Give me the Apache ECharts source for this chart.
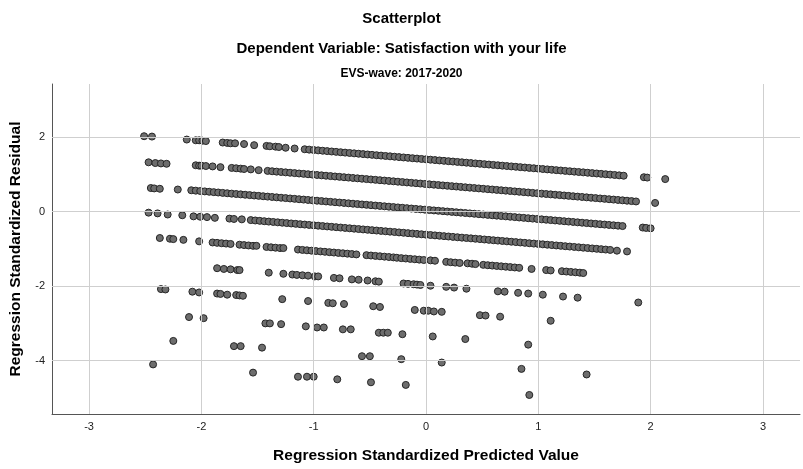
<!DOCTYPE html>
<html>
<head>
<meta charset="utf-8">
<script src="https://cdn.jsdelivr.net/npm/echarts@6/dist/echarts.min.js"></script>
<style>html,body{margin:0;padding:0;background:#fff}#c{width:803px;height:469px}</style>
</head>
<body>
<div id="c"></div>
<script>
// Tick labels
var xTicks = [-3, -2, -1, 0, 1, 2, 3];
var yTicks = [2, 0, -2, -4];

// Points [standardized predicted value, standardized residual], grouped by response band
var life10 = [[-2.51,2.02],[-2.44,2.01],[-2.13,1.93],[-2.05,1.91],[-2.02,1.91],[-1.99,1.90],[-1.96,1.89],[-1.81,1.85],[-1.77,1.84],[-1.74,1.83],[-1.70,1.83],[-1.62,1.81],[-1.53,1.78],[-1.42,1.76],[-1.39,1.75],[-1.34,1.74],[-1.31,1.73],[-1.25,1.71],[-1.17,1.69],
[-1.08,1.67],[-1.04,1.66],[-1.00,1.65],[-0.96,1.64],[-0.92,1.63],[-0.88,1.62],[-0.84,1.61],[-0.80,1.60],[-0.76,1.59],[-0.72,1.58],[-0.68,1.57],[-0.64,1.56],[-0.60,1.55],[-0.56,1.54],[-0.52,1.53],[-0.48,1.52],[-0.44,1.51],[-0.40,1.50],[-0.36,1.49],[-0.32,1.48],[-0.28,1.47],[-0.24,1.46],[-0.20,1.45],[-0.16,1.44],[-0.12,1.43],[-0.08,1.42],[-0.04,1.41],[0.00,1.40],[0.04,1.39],[0.08,1.38],[0.12,1.37],[0.16,1.36],[0.20,1.35],[0.24,1.34],[0.28,1.33],[0.32,1.32],[0.36,1.31],[0.40,1.30],[0.44,1.29],[0.48,1.28],[0.52,1.27],[0.56,1.26],[0.60,1.25],[0.64,1.24],[0.68,1.23],[0.72,1.22],[0.76,1.21],[0.80,1.20],[0.84,1.19],[0.88,1.18],[0.92,1.17],[0.96,1.16],[1.00,1.15],[1.04,1.14],[1.08,1.13],[1.12,1.12],[1.16,1.11],[1.20,1.10],[1.24,1.09],[1.28,1.08],[1.32,1.07],[1.36,1.06],[1.40,1.05],[1.44,1.04],[1.48,1.03],[1.52,1.02],[1.56,1.01],[1.60,1.00],[1.64,0.99],[1.68,0.98],[1.72,0.97],[1.76,0.96],
[1.94,0.92],[1.97,0.91],[2.13,0.87]];

var life9 = [[-2.47,1.32],[-2.41,1.30],[-2.36,1.29],[-2.31,1.28],[-2.05,1.24],[-2.02,1.23],[-2.00,1.23],[-1.96,1.22],[-1.90,1.21],[-1.83,1.19],[-1.73,1.17],[-1.69,1.16],[-1.65,1.15],[-1.62,1.14],[-1.56,1.13],[-1.49,1.11],
[-1.41,1.09],[-1.37,1.08],[-1.33,1.07],[-1.29,1.06],[-1.25,1.05],[-1.21,1.04],[-1.17,1.03],[-1.13,1.02],[-1.09,1.01],[-1.05,1.00],[-1.01,0.99],[-0.97,0.98],[-0.93,0.97],[-0.89,0.96],[-0.85,0.95],[-0.81,0.94],[-0.77,0.93],[-0.73,0.92],[-0.69,0.91],[-0.65,0.90],[-0.61,0.89],[-0.57,0.88],[-0.53,0.87],[-0.49,0.86],[-0.45,0.85],[-0.41,0.84],[-0.37,0.83],[-0.33,0.82],[-0.29,0.81],[-0.25,0.80],[-0.21,0.79],[-0.17,0.78],[-0.13,0.77],[-0.09,0.76],[-0.05,0.75],[-0.01,0.74],[0.03,0.73],[0.07,0.72],[0.11,0.71],[0.15,0.70],[0.19,0.69],[0.23,0.68],[0.27,0.67],[0.31,0.66],[0.35,0.65],[0.39,0.64],[0.43,0.63],[0.47,0.62],[0.51,0.61],[0.55,0.60],[0.59,0.59],[0.63,0.58],[0.67,0.57],[0.71,0.56],[0.75,0.55],[0.79,0.54],[0.83,0.53],[0.87,0.52],[0.91,0.51],[0.95,0.50],[0.99,0.49],[1.03,0.48],[1.07,0.47],[1.11,0.46],[1.15,0.45],[1.19,0.44],[1.23,0.43],[1.27,0.42],[1.31,0.41],[1.35,0.40],[1.39,0.39],[1.43,0.38],[1.47,0.37],[1.51,0.36],[1.55,0.35],[1.59,0.34],[1.63,0.33],[1.67,0.32],[1.71,0.31],[1.75,0.30],[1.79,0.29],[1.83,0.28],[1.87,0.27],
[2.04,0.23]];

var life8 = [[-2.45,0.63],[-2.42,0.62],[-2.37,0.61],[-2.21,0.59],
[-2.09,0.57],[-2.05,0.56],[-2.01,0.55],[-1.97,0.54],[-1.93,0.53],[-1.89,0.52],[-1.85,0.51],[-1.81,0.50],[-1.77,0.49],[-1.73,0.48],[-1.69,0.47],[-1.65,0.46],[-1.61,0.45],[-1.57,0.44],[-1.53,0.43],[-1.49,0.42],[-1.45,0.41],[-1.41,0.40],[-1.37,0.39],[-1.33,0.38],[-1.29,0.37],[-1.25,0.36],[-1.21,0.35],[-1.17,0.34],[-1.13,0.33],[-1.09,0.32],[-1.05,0.31],[-1.01,0.30],[-0.97,0.29],[-0.93,0.28],[-0.89,0.27],[-0.85,0.26],[-0.81,0.25],[-0.77,0.24],[-0.73,0.23],[-0.69,0.22],[-0.65,0.21],[-0.61,0.20],[-0.57,0.19],[-0.53,0.18],[-0.49,0.17],[-0.45,0.16],[-0.41,0.15],[-0.37,0.14],[-0.33,0.13],[-0.29,0.12],[-0.25,0.11],[-0.21,0.10],[-0.17,0.09],[-0.13,0.08],[-0.09,0.07],[-0.05,0.06],[-0.01,0.05],[0.03,0.04],[0.07,0.03],[0.11,0.02],[0.15,0.01],[0.19,0.00],[0.23,-0.01],[0.27,-0.02],[0.31,-0.03],[0.35,-0.04],[0.39,-0.05],[0.43,-0.06],[0.47,-0.07],[0.51,-0.08],[0.55,-0.09],[0.59,-0.10],[0.63,-0.11],[0.67,-0.12],[0.71,-0.13],[0.75,-0.14],[0.79,-0.15],[0.83,-0.16],[0.87,-0.17],[0.91,-0.18],[0.95,-0.19],[0.99,-0.20],[1.03,-0.21],[1.07,-0.22],[1.11,-0.23],[1.15,-0.24],[1.19,-0.25],[1.23,-0.26],[1.27,-0.27],[1.31,-0.28],[1.35,-0.29],[1.39,-0.30],[1.43,-0.31],[1.47,-0.32],[1.51,-0.33],[1.55,-0.34],[1.59,-0.35],[1.63,-0.36],[1.67,-0.37],[1.71,-0.38],[1.75,-0.39],
[1.93,-0.43],[1.96,-0.44],[2.00,-0.45]];

var life7 = [[-2.47,-0.03],[-2.39,-0.05],[-2.30,-0.08],[-2.17,-0.10],[-2.07,-0.13],[-2.01,-0.14],[-1.95,-0.15],[-1.88,-0.17],[-1.75,-0.19],[-1.71,-0.20],[-1.64,-0.21],
[-1.56,-0.23],[-1.52,-0.24],[-1.48,-0.25],[-1.44,-0.26],[-1.40,-0.27],[-1.36,-0.28],[-1.32,-0.29],[-1.28,-0.30],[-1.24,-0.31],[-1.20,-0.32],[-1.16,-0.33],[-1.12,-0.34],[-1.08,-0.35],[-1.04,-0.36],[-1.00,-0.37],[-0.96,-0.38],[-0.92,-0.39],[-0.88,-0.40],[-0.84,-0.41],[-0.80,-0.42],[-0.76,-0.43],[-0.72,-0.44],[-0.68,-0.45],[-0.64,-0.46],[-0.60,-0.47],[-0.56,-0.48],[-0.52,-0.49],[-0.48,-0.50],[-0.44,-0.51],[-0.40,-0.52],[-0.36,-0.53],[-0.32,-0.54],[-0.28,-0.55],[-0.24,-0.56],[-0.20,-0.57],[-0.16,-0.58],[-0.12,-0.59],[-0.08,-0.60],[-0.04,-0.61],[0.00,-0.62],[0.04,-0.63],[0.08,-0.64],[0.12,-0.65],[0.16,-0.66],[0.20,-0.67],[0.24,-0.68],[0.28,-0.69],[0.32,-0.70],[0.36,-0.71],[0.40,-0.72],[0.44,-0.73],[0.48,-0.74],[0.52,-0.75],[0.56,-0.76],[0.60,-0.77],[0.64,-0.78],[0.68,-0.79],[0.72,-0.80],[0.76,-0.81],[0.80,-0.82],[0.84,-0.83],[0.88,-0.84],[0.92,-0.85],[0.96,-0.86],[1.00,-0.87],[1.04,-0.88],[1.08,-0.89],[1.12,-0.90],[1.16,-0.91],[1.20,-0.92],[1.24,-0.93],[1.28,-0.94],[1.32,-0.95],[1.36,-0.96],[1.40,-0.97],[1.44,-0.98],[1.48,-0.99],[1.52,-1.00],[1.56,-1.01],[1.60,-1.02],[1.64,-1.03],
[1.70,-1.05],[1.79,-1.07]];

var life6 = [[-2.37,-0.71],[-2.28,-0.73],[-2.25,-0.74],[-2.16,-0.76],[-2.02,-0.80],
[-1.90,-0.83],[-1.86,-0.84],[-1.82,-0.85],[-1.78,-0.86],[-1.74,-0.87],[-1.66,-0.89],[-1.62,-0.90],[-1.58,-0.91],[-1.54,-0.92],[-1.51,-0.92],
[-1.42,-0.95],[-1.38,-0.96],[-1.34,-0.97],[-1.30,-0.98],[-1.27,-0.98],
[-1.14,-1.02],[-1.10,-1.03],[-1.06,-1.04],[-1.02,-1.05],[-0.98,-1.06],[-0.94,-1.07],[-0.90,-1.08],[-0.86,-1.09],[-0.82,-1.10],[-0.78,-1.11],[-0.74,-1.12],[-0.70,-1.13],[-0.66,-1.14],[-0.62,-1.15],
[-0.53,-1.17],[-0.49,-1.18],[-0.45,-1.19],[-0.41,-1.20],[-0.37,-1.21],[-0.33,-1.22],[-0.29,-1.23],[-0.26,-1.24],
[-0.22,-1.25],[-0.18,-1.26],[-0.14,-1.27],[-0.10,-1.28],[-0.06,-1.29],[-0.02,-1.30],
[0.04,-1.31],[0.08,-1.32],[0.18,-1.35],[0.22,-1.36],[0.26,-1.37],[0.30,-1.38],[0.37,-1.39],[0.41,-1.40],[0.44,-1.41],
[0.51,-1.43],[0.55,-1.44],[0.59,-1.45],[0.63,-1.46],[0.67,-1.47],[0.71,-1.48],[0.75,-1.49],[0.79,-1.50],[0.83,-1.51],
[0.94,-1.54],[1.07,-1.57],[1.11,-1.58],[1.21,-1.60],[1.25,-1.61],[1.29,-1.62],[1.33,-1.63],[1.37,-1.64],[1.40,-1.65]];

var life5 = [[-1.86,-1.52],[-1.80,-1.54],[-1.74,-1.55],[-1.68,-1.57],[-1.66,-1.57],[-1.40,-1.64],[-1.27,-1.67],[-1.19,-1.69],[-1.15,-1.70],[-1.10,-1.71],[-1.05,-1.72],[-0.99,-1.74],[-0.96,-1.74],[-0.82,-1.78],[-0.77,-1.79],[-0.66,-1.82],[-0.60,-1.83],[-0.52,-1.85],[-0.45,-1.87],[-0.42,-1.88],[-0.20,-1.93],[-0.16,-1.94],[-0.11,-1.95],[-0.08,-1.96],[-0.05,-1.97],[0.04,-1.99],[0.18,-2.02],[0.25,-2.04],[0.36,-2.07],[0.64,-2.14],[0.70,-2.15],[0.82,-2.18],[0.91,-2.20],[1.04,-2.23],[1.22,-2.28],[1.35,-2.31],[1.89,-2.44]];

var life4 = [[-2.36,-2.08],[-2.32,-2.09],[-2.08,-2.15],[-2.02,-2.17],[-1.86,-2.20],[-1.83,-2.21],[-1.77,-2.23],[-1.69,-2.24],[-1.66,-2.25],[-1.63,-2.26],[-1.28,-2.35],[-1.05,-2.40],[-0.87,-2.45],[-0.83,-2.46],[-0.73,-2.48],[-0.47,-2.54],[-0.41,-2.56],[-0.10,-2.64],[-0.02,-2.66],[0.02,-2.66],[0.07,-2.68],[0.14,-2.69],[0.48,-2.78],[0.53,-2.79],[0.66,-2.82],[1.11,-2.93]];

var life3 = [[-2.11,-2.83],[-1.98,-2.86],[-1.43,-3.00],[-1.39,-3.00],[-1.29,-3.02],[-1.07,-3.08],[-0.97,-3.11],[-0.91,-3.11],[-0.74,-3.16],[-0.67,-3.16],[-0.42,-3.25],[-0.38,-3.25],[-0.34,-3.25],[-0.21,-3.29],[0.06,-3.35],[0.35,-3.42],[0.91,-3.57]];

var life2 = [[-2.25,-3.47],[-1.71,-3.61],[-1.65,-3.61],[-1.46,-3.65],[-0.57,-3.88],[-0.50,-3.88],[-0.22,-3.96],[0.14,-4.05],[0.85,-4.22],[1.43,-4.37]];

var life1 = [[-2.43,-4.10],[-1.54,-4.32],[-1.14,-4.43],[-1.06,-4.43],[-1.00,-4.43],[-0.79,-4.50],[-0.49,-4.58],[-0.18,-4.65],[0.92,-4.92]];

var bands = [life10, life9, life8, life7, life6, life5, life4, life3, life2, life1];

var font = "'Liberation Sans', Arial, sans-serif";
var chart = echarts.init(document.getElementById('c'), null, {renderer: 'canvas'});

var series = [{
  type: 'scatter', data: [], z: 1, silent: true,
  markLine: {
    silent: true, symbol: ['none', 'none'], animation: false,
    label: {show: false},
    lineStyle: {color: '#cfcfcf', width: 1, type: 'solid'},
    data: xTicks.map(function (v) { return {xAxis: v}; }).concat(yTicks.map(function (v) { return {yAxis: v}; }))
  }
}];
bands.forEach(function (b) {
  series.push({
    type: 'scatter', data: b, z: 3, symbolSize: 7, animation: false,
    itemStyle: {color: '#6d6d6d', borderColor: '#262626', borderWidth: 1, opacity: 1}
  });
});

chart.setOption({
  animation: false,
  backgroundColor: '#fff',
  title: [
    {text: 'Scatterplot', left: 'center', top: 6, textStyle: {fontFamily: font, fontSize: 15, fontWeight: 'bold', color: '#000'}},
    {text: 'Dependent Variable: Satisfaction with your life', left: 'center', top: 36, textStyle: {fontFamily: font, fontSize: 15, fontWeight: 'bold', color: '#000'}},
    {text: 'EVS-wave: 2017-2020', left: 'center', top: 63, textStyle: {fontFamily: font, fontSize: 12, fontWeight: 'bold', color: '#000'}}
  ],
  grid: {left: 51, right: 3, top: 84, bottom: 53, containLabel: false},
  xAxis: {
    type: 'value', min: -3.33, max: 3.33,
    name: 'Regression Standardized Predicted Value', nameLocation: 'middle', nameGap: 34,
    nameTextStyle: {fontFamily: font, fontSize: 15.5, fontWeight: 'bold', color: '#000'},
    axisLine: {show: true, onZero: false, lineStyle: {color: '#555', width: 1}},
    axisTick: {show: false},
    splitLine: {show: false},
    axisLabel: {customValues: xTicks, fontFamily: font, fontSize: 11, color: '#222', margin: 7}
  },
  yAxis: {
    type: 'value', min: -5.43, max: 3.42,
    name: 'Regression Standardized Residual', nameLocation: 'middle', nameGap: 28,
    nameTextStyle: {fontFamily: font, fontSize: 15.5, fontWeight: 'bold', color: '#000'},
    axisLine: {show: true, onZero: false, lineStyle: {color: '#555', width: 1}},
    axisTick: {show: false},
    splitLine: {show: false},
    axisLabel: {customValues: yTicks, fontFamily: font, fontSize: 11, color: '#222', margin: 7}
  },
  series: series
});
</script>
</body>
</html>
